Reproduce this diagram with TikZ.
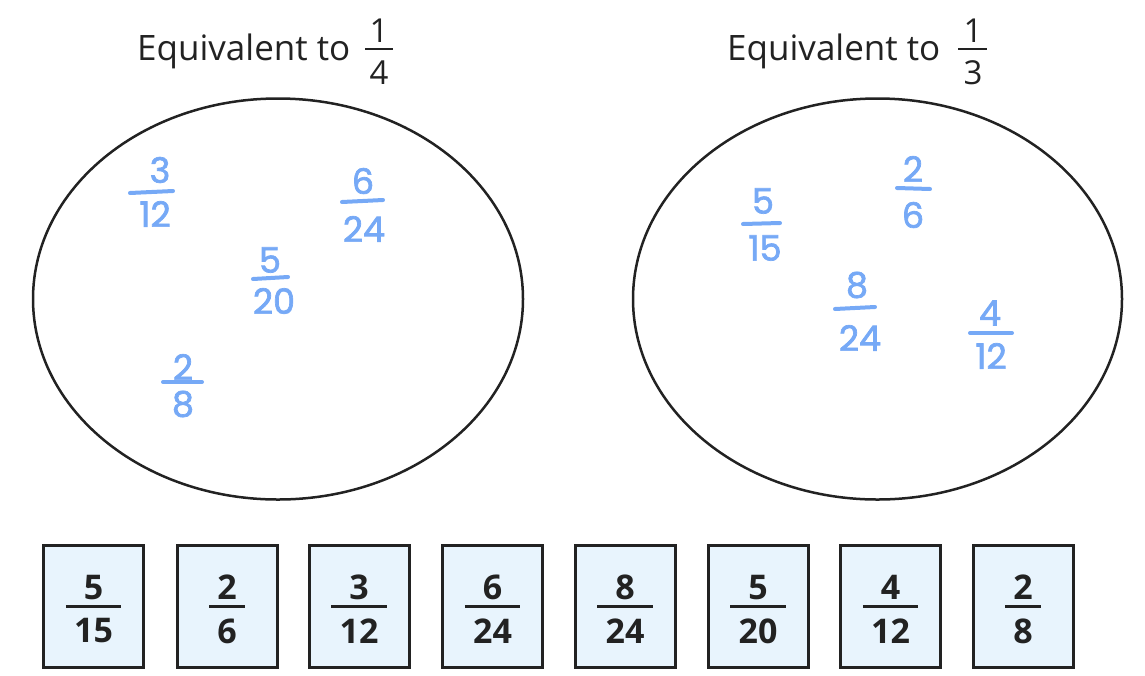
\documentclass[tikz,border=0pt]{standalone}
\usepackage{fontspec}
\setmainfont{Open Sans}
\newfontfamily\handfont[FakeBold=2]{Poppins}
\usetikzlibrary{shapes.geometric}
\definecolor{ink}{HTML}{222222}
\definecolor{hand}{HTML}{76A9F6}
\definecolor{cardfill}{HTML}{E8F4FD}
\tikzset{
  titletxt/.style={inner sep=0pt, text=ink, font=\fontsize{35}{42}\selectfont},
  titledig/.style={inner sep=0pt, text=ink, font=\fontsize{33}{38}\selectfont},
  titlebar/.style={draw=ink, line width=2.5pt},
  ring/.style={draw=ink, line width=2.5pt, ellipse, inner sep=0pt},
  card/.style={draw=ink, fill=cardfill, line width=3pt, rectangle, minimum width=100pt, minimum height=122pt, inner sep=0pt},
  cardtxt/.style={inner sep=0pt, text=ink, font=\fontsize{34}{40}\selectfont\bfseries},
  cardbar/.style={draw=ink, line width=3pt},
  handtxt/.style={inner sep=0pt, text=hand, font=\fontsize{35}{40}\handfont},
  handbar/.style={draw=hand, line width=4pt, line cap=round},
}
\newcommand\cardfrac[4]{%
  \node[card] (#1) at (#2,606) {};
  \node[cardtxt] (#1n) at (#2,587.5) {#3};
  \node[cardtxt] (#1d) at (#2,631) {#4};
  \draw[cardbar] ([xshift=-8pt]#1d.west |- #1.center) -- ([xshift=8pt]#1d.east |- #1.center);
}
\newcommand\handfrac[7]{%
  \node[handtxt] (#1n) at #4 {#2};
  \node[handtxt] (#1d) at #5 {#3};
  \coordinate (#1l) at #6;
  \coordinate (#1r) at #7;
  \draw[handbar] (#1l) -- (#1r);
}
\begin{document}
\begin{tikzpicture}[x=1pt,y=-1pt]
\useasboundingbox (0,0) rectangle (1145,675);
% titles
\node[titletxt, anchor=base west] (t1) at (137,60) {Equivalent to};
\node[titledig] (t1n) at (379,31) {1};
\node[titledig] (t1d) at (379,73) {4};
\coordinate (t1l) at (365,49); \coordinate (t1r) at (393,49);
\draw[titlebar] (t1l) -- (t1r);
\node[titletxt, anchor=base west] (t2) at (727,60) {Equivalent to};
\node[titledig] (t2n) at (973,31) {1};
\node[titledig] (t2d) at (973,73) {3};
\coordinate (t2l) at (958,49); \coordinate (t2r) at (987,49);
\draw[titlebar] (t2l) -- (t2r);
% ellipses
\node[ring, minimum width=490pt, minimum height=401pt] (e1) at (278,299) {};
\node[ring, minimum width=489pt, minimum height=401pt] (e2) at (877.5,299) {};
% handwritten fractions, left
\handfrac{a}{3}{12}{(160,170)}{(155,214)}{(130,193)}{(173,191)}
\handfrac{b}{6}{24}{(363,181)}{(364,229)}{(342,202)}{(383,200)}
\handfrac{c}{5}{20}{(270,260)}{(274,301)}{(253,279)}{(288,277)}
\handfrac{d}{2}{8}{(183,367)}{(183,404)}{(163,382)}{(202,382)}
% handwritten fractions, right
\handfrac{e}{5}{15}{(763,201)}{(765,248)}{(743,224)}{(780,223)}
\handfrac{f}{2}{6}{(913,169)}{(913,215)}{(897,188)}{(930,189)}
\handfrac{g}{8}{24}{(857,285)}{(860,338)}{(835,309)}{(875,307)}
\handfrac{h}{4}{12}{(990,313)}{(991,356)}{(970,333)}{(1012,333)}
% cards
\cardfrac{c1}{93.5}{5}{15}
\cardfrac{c2}{227}{2}{6}
\cardfrac{c3}{359}{3}{12}
\cardfrac{c4}{492.5}{6}{24}
\cardfrac{c5}{625}{8}{24}
\cardfrac{c6}{758}{5}{20}
\cardfrac{c7}{890.5}{4}{12}
\cardfrac{c8}{1023}{2}{8}
\end{tikzpicture}
\end{document}
